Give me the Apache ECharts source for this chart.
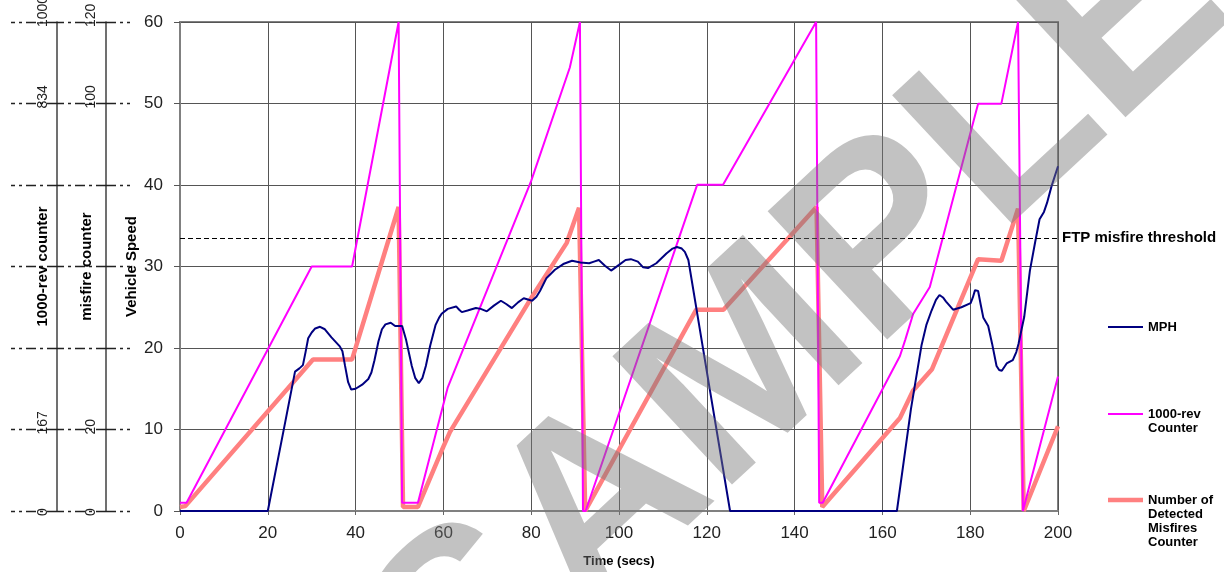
<!DOCTYPE html>
<html>
<head>
<meta charset="utf-8">
<script src="https://cdn.jsdelivr.net/npm/echarts@6/dist/echarts.min.js"></script>
<style>html,body{margin:0;padding:0;background:#fff}#c{width:1224px;height:572px}</style>
</head>
<body>
<div id="c"></div>
<script>
// ---------- data ----------
const seriesNames = ['MPH', '1000-rev Counter', 'Number of Detected Misfires Counter'];
// leading blank lines keep the legend line beside the first text line
const legendLabels = ['MPH', '\n1000-rev\nCounter', '\n\n\nNumber of\nDetected\nMisfires\nCounter'];
const speedTickLabels = ['0', '10', '20', '30', '40', '50', '60'];
const misfireTickLabels = ['0', '20', '', '', '', '100', '120'];
const revTickLabels = ['0', '167', '', '', '', '834', '1000'];
const thresholdLabel = 'FTP misfire threshold';
const misfireThreshold = 67;

// [time (s), MPH]
const mphData = [[0,0],[20,0],[24,11],[26.2,17.1],[27.2,17.5],[28,17.9],[28.6,19.5],[29.2,21.2],[30,21.9],[30.8,22.4],[31.9,22.6],[33,22.3],[34.5,21.3],[36.4,20.2],[37,19.6],[37.6,17.8],[38.3,15.8],[39,14.9],[40,15],[41.5,15.5],[42.9,16.2],[43.6,17],[44.3,18.5],[45.2,20.8],[46,22.3],[46.8,22.9],[48,23.1],[49,22.7],[50.6,22.7],[51.5,21],[52.8,17.8],[53.6,16.3],[54.4,15.7],[55.2,16.3],[56,17.8],[57,20.3],[58.2,22.8],[59,23.7],[59.6,24.2],[61,24.8],[62.9,25.1],[63.6,24.7],[64.2,24.4],[65.5,24.6],[67.4,24.9],[68.5,24.8],[69.9,24.5],[71.5,25.2],[73.1,25.8],[74.3,25.4],[75.6,24.9],[77,25.6],[78.3,26.1],[80.2,25.8],[81.2,26.3],[82,27],[83.5,28.6],[85.4,29.6],[87.3,30.3],[89.3,30.7],[91.2,30.5],[93.2,30.4],[94.3,30.6],[95.4,30.8],[96.8,30.1],[98.2,29.5],[100,30.2],[101.5,30.8],[102.7,30.9],[104.3,30.6],[105.5,29.9],[106.6,29.8],[108.5,30.4],[110.8,31.6],[112.2,32.2],[113.2,32.4],[114.3,32.2],[115,31.8],[115.8,30.8],[120.5,15.5],[125.3,0],[163.3,0],[166.5,12.5],[168.9,20.3],[170,22.8],[171.2,24.6],[172.2,25.9],[173,26.5],[173.8,26.2],[174.5,25.7],[176.1,24.7],[178,25],[180.1,25.5],[180.6,26.2],[181.1,27.1],[181.8,27],[182.4,25.3],[183,23.7],[184.1,22.7],[185,20.5],[186,17.8],[186.6,17.3],[187.2,17.2],[188.3,18.1],[189.7,18.5],[190.5,19.5],[191,20.5],[192.3,23.8],[193.6,29.5],[194.8,33],[195.8,35.8],[196.8,36.7],[197.5,37.8],[198.5,39.8],[200,42.3]];

// [time (s), revolutions (1000-rev counter scale)]
const revCounterData = [[0,17],[1.5,17],[30,500],[39.2,500],[49.8,1000],[50.6,17],[54.2,17],[61,253],[80,675],[88.8,907],[91.1,1000],[91.8,0],[92.4,0],[117.8,667],[123.7,667],[144.9,1000],[145.6,17],[146.4,17],[164,317],[165.2,350],[167,403],[170.8,458],[181.8,833],[187.1,833],[190.9,1000],[192,0],[200,275]];

// [time (s), detected misfires]
const misfireCounterData = [[0,1],[1.2,1.2],[30.3,37.2],[39.2,37.2],[49.8,74.6],[50.8,1],[54.2,1],[60,15.8],[61.5,19.4],[80.2,52.6],[88.1,65.8],[90.9,74.4],[92.3,0],[117.6,49.4],[123.8,49.4],[145,74.6],[146.3,1],[164,22.8],[167,29.6],[171.3,34.8],[181.8,61.8],[187.1,61.4],[190.9,74.2],[192.2,0],[200,20.8]];

// ---------- chart ----------
const FONT = '"Liberation Sans", Arial, sans-serif';
const dashDot = [10, 4, 3, 4];
const chart = echarts.init(document.getElementById('c'), null, {renderer: 'canvas'});

function tickIndex(v, max) { return Math.round(v / max * 6); }

function legendFor(i, top, thickness) {
  return {
    orient: 'vertical', left: 1108, top: top, padding: 0,
    itemWidth: 35, itemHeight: thickness, itemGap: 0, icon: 'rect',
    selectedMode: false,
    textStyle: {fontFamily: FONT, fontWeight: 'bold', fontSize: 13, color: '#000', lineHeight: 14},
    formatter: n => legendLabels[seriesNames.indexOf(n)],
    data: [seriesNames[i]]
  };
}

const option = {
  animation: false,
  backgroundColor: '#fff',
  grid: {left: 180, right: 166, top: 22, bottom: 61, show: true, borderColor: '#808080', borderWidth: 2,
         containLabel: false, outerBoundsMode: 'none'},
  legend: [
    legendFor(0, 320, 2),
    legendFor(1, 393, 2),
    legendFor(2, 451, 4.5)
  ],
  xAxis: {
    type: 'value', min: 0, max: 200, interval: 20,
    name: 'Time (secs)', nameLocation: 'middle', nameGap: 44, nameMoveOverlap: false,
    nameTextStyle: {fontFamily: FONT, fontWeight: 'bold', fontSize: 13, color: '#000'},
    axisLine: {show: true, onZero: false, lineStyle: {color: '#808080', width: 2}},
    axisTick: {show: true, length: 4, lineStyle: {color: '#666'}},
    axisLabel: {fontFamily: FONT, fontSize: 17, color: '#222', margin: 14},
    splitLine: {show: true, lineStyle: {color: '#555', width: 1}}
  },
  yAxis: [
    { // vehicle speed
      type: 'value', position: 'left', min: 0, max: 60, interval: 10,
      name: 'Vehicle Speed', nameLocation: 'middle', nameGap: 41, nameMoveOverlap: false,
      nameTextStyle: {fontFamily: FONT, fontWeight: 'bold', fontSize: 15, color: '#000'},
      axisLine: {show: true, lineStyle: {color: '#808080', width: 2}},
      axisTick: {show: true, length: 6, lineStyle: {color: '#555'}},
      axisLabel: {fontFamily: FONT, fontSize: 17, color: '#222', margin: 17,
                  formatter: v => speedTickLabels[tickIndex(v, 60)]},
      splitLine: {show: true, lineStyle: {color: '#555', width: 1}}
    },
    { // misfire counter
      type: 'value', position: 'left', offset: 74, min: 0, max: 120, interval: 20,
      name: 'misfire counter', nameLocation: 'middle', nameGap: 12, nameMoveOverlap: false,
      nameTextStyle: {fontFamily: FONT, fontWeight: 'bold', fontSize: 15, color: '#000'},
      axisLine: {show: true, lineStyle: {color: '#404040', width: 1.5}},
      axisTick: {show: true, length: 49, lineStyle: {color: '#222', width: 1.4, type: dashDot}},
      axisLabel: {fontFamily: FONT, fontSize: 14, color: '#222', rotate: 90, align: 'left', verticalAlign: 'bottom', margin: 8,
                  padding: [0, 0, 0, -5],
                  formatter: v => misfireTickLabels[tickIndex(v, 120)]},
      splitLine: {show: false}
    },
    { // 1000-rev counter
      type: 'value', position: 'left', offset: 123, min: 0, max: 1000, interval: 1000 / 6,
      name: '1000-rev counter', nameLocation: 'middle', nameGap: 7, nameMoveOverlap: false,
      nameTextStyle: {fontFamily: FONT, fontWeight: 'bold', fontSize: 15, color: '#000'},
      axisLine: {show: true, lineStyle: {color: '#404040', width: 1.5}},
      axisTick: {show: true, length: 46, lineStyle: {color: '#222', width: 1.4, type: dashDot}},
      axisLabel: {fontFamily: FONT, fontSize: 14, color: '#222', rotate: 90, align: 'left', verticalAlign: 'bottom', margin: 7,
                  padding: [0, 0, 0, -5],
                  formatter: v => revTickLabels[tickIndex(v, 1000)]},
      splitLine: {show: false}
    },
    { // helper: dash-dot tick continuation to the right of the misfire axis
      type: 'value', position: 'left', offset: 74, min: 0, max: 60, interval: 10,
      axisLine: {show: false},
      axisTick: {show: true, inside: true, length: 24, lineStyle: {color: '#222', width: 1.4, type: dashDot}},
      axisLabel: {show: false},
      splitLine: {show: false}
    }
  ],
  series: [
    {
      name: seriesNames[2], type: 'line', yAxisIndex: 1, data: misfireCounterData,
      symbol: 'none', lineStyle: {color: '#FF8080', width: 4.5}, itemStyle: {color: '#FF8080'}, z: 2,
      markLine: {
        silent: true, symbol: 'none',
        lineStyle: {color: '#000', width: 1.2, type: [5, 3]},
        label: {show: true, position: 'end', formatter: thresholdLabel, fontFamily: FONT, fontWeight: 'bold', fontSize: 15, color: '#000', distance: 4},
        data: [{yAxis: misfireThreshold}]
      }
    },
    {
      name: seriesNames[1], type: 'line', yAxisIndex: 2, data: revCounterData,
      symbol: 'none', lineStyle: {color: '#FF00FF', width: 2}, itemStyle: {color: '#FF00FF'}, z: 3
    },
    {
      name: seriesNames[0], type: 'line', yAxisIndex: 0, data: mphData,
      symbol: 'none', lineStyle: {color: '#000080', width: 2}, itemStyle: {color: '#000080'}, z: 4
    }
  ],
  graphic: [{
    type: 'text', x: 801, y: 324, rotation: 43 * Math.PI / 180, z: 100, silent: true,
    style: {text: 'SAMPLE', font: 'bold 255px "Liberation Sans", Arial, sans-serif', fill: 'rgba(120,120,120,0.45)', align: 'center', verticalAlign: 'middle'}
  }]
};
chart.setOption(option);
</script>
</body>
</html>
